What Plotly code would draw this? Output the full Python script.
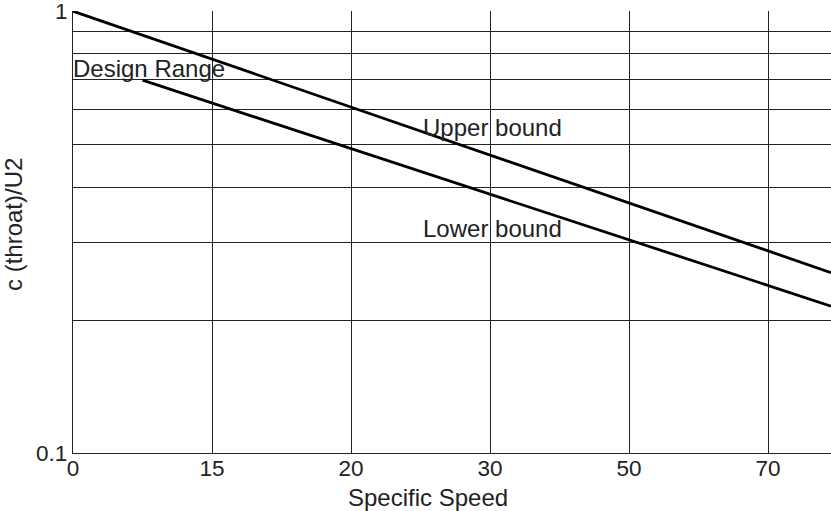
import plotly.graph_objects as go

# Specific-speed categories, evenly spaced on the horizontal axis
speed_labels = ["0", "15", "20", "30", "50", "70"]
speed_pos = [0, 1, 2, 3, 4, 5]

# Bound lines (position on the speed axis, c(throat)/U2)
upper_x = [0.0, 5.453]
upper_y = [1.0, 0.256]
lower_x = [0.5, 5.453]
lower_y = [0.698, 0.215]

# Log grid levels for the ratio axis
ratio_ticks = [0.1, 0.2, 0.3, 0.4, 0.5, 0.6, 0.7, 0.8, 0.9, 1.0]
ratio_text = ["0.1", "", "", "", "", "", "", "", "", "1"]

FONT = "Liberation Sans, Arial, sans-serif"
INK = "#222"
LINE = dict(color="black", width=2.8)

fig = go.Figure()
fig.add_trace(go.Scatter(x=upper_x, y=upper_y, mode="lines", line=LINE,
                         showlegend=False, hoverinfo="skip", cliponaxis=False))
fig.add_trace(go.Scatter(x=lower_x, y=lower_y, mode="lines", line=LINE,
                         showlegend=False, hoverinfo="skip"))

label_font = dict(family=FONT, size=24, color=INK)
fig.add_annotation(x=0, y=-0.1335, xref="x", yref="y", text="Design Range",
                   showarrow=False, xanchor="left", yanchor="middle",
                   font=label_font, xshift=-2, yshift=2)
fig.add_annotation(x=2.518, y=-0.2624, xref="x", yref="y", text="Upper bound",
                   showarrow=False, xanchor="left", yanchor="middle",
                   font=label_font, xshift=-2)
fig.add_annotation(x=2.518, y=-0.4910, xref="x", yref="y", text="Lower bound",
                   showarrow=False, xanchor="left", yanchor="middle",
                   font=label_font, xshift=-2)

# Axis titles
fig.add_annotation(x=(428 - 73) / 758, y=-44 / 442, xref="paper", yref="paper",
                   text="Specific Speed", showarrow=False, font=label_font,
                   xanchor="center", yanchor="middle")
fig.add_annotation(x=(14 - 73) / 758, y=(453 - 225) / 442, xref="paper", yref="paper",
                   text="c (throat)/U2", showarrow=False, font=label_font,
                   textangle=-90, xanchor="center", yanchor="middle")

fig.update_layout(
    width=831, height=511,
    margin=dict(l=73, r=0, t=11, b=58),
    paper_bgcolor="white", plot_bgcolor="white",
    font=dict(family=FONT, size=22, color=INK),
    xaxis=dict(
        range=[0, 5.453], tickmode="array", tickvals=speed_pos, ticktext=speed_labels,
        showgrid=True, gridcolor=INK, gridwidth=1,
        showline=True, linecolor=INK, linewidth=1.2,
        ticks="", zeroline=False, ticklabelstandoff=-5,
        tickfont=dict(size=22.5),
    ),
    yaxis=dict(
        type="log", range=[-1, 0.0004], tickmode="array", tickvals=ratio_ticks,
        ticktext=ratio_text, ticklabeloverflow="allow",
        showgrid=True, gridcolor=INK, gridwidth=1,
        showline=True, linecolor=INK, linewidth=1.2,
        ticks="", zeroline=False,
        tickfont=dict(size=22.5),
    ),
)

fig.write_html("out.html")
